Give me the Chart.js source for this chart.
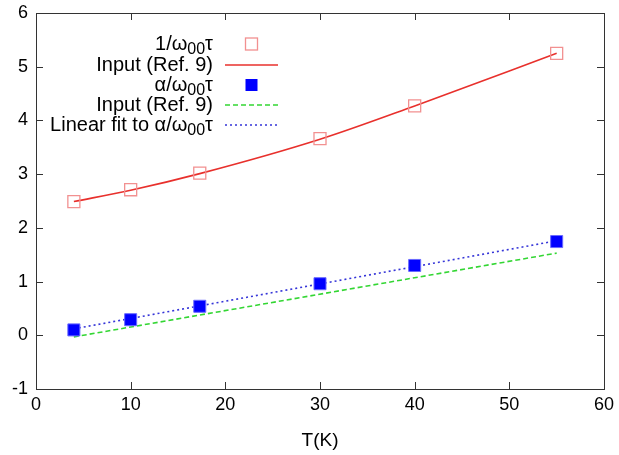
<!DOCTYPE html>
<html>
<head>
<meta charset="utf-8">
<script src="https://cdn.jsdelivr.net/npm/chart.js@4.4.0/dist/chart.umd.min.js"></script>
<style>
  html, body { margin: 0; padding: 0; background: #fff; }
  #wrap { width: 619px; height: 455px; }
</style>
</head>
<body>
<div id="wrap"><canvas id="c" width="619" height="455"></canvas></div>
<script>
// Temperatures of the measured points (K)
const temps = [4, 10, 17.3, 30, 40, 55];
// 1/w00 tau, measured and reference input curve
const invOmegaTau = [2.49, 2.71, 3.02, 3.66, 4.27, 5.25];
const inputCurve = [2.49, 2.70, 3.01, 3.65, 4.27, 5.25];
// alpha/w00 tau, measured, reference input and linear fit (end points)
const alphaOmegaTau = [0.10, 0.29, 0.54, 0.96, 1.30, 1.745];
const lineTemps = [4, 55];
const alphaInput = [-0.03, 1.53];
const alphaFit = [0.12, 1.76];

const xTicks = [0, 10, 20, 30, 40, 50, 60];
const yTicks = [-1, 0, 1, 2, 3, 4, 5, 6];

// legend labels, split so the "00" can be written as a subscript
const legendLabels = [
  [['1/ω'], ['00', 1], ['τ']],
  [['Input (Ref. 9)']],
  [['α/ω'], ['00', 1], ['τ']],
  [['Input (Ref. 9)']],
  [['Linear fit to α/ω'], ['00', 1], ['τ']]
];

const FONT = '"Liberation Sans", Arial, Helvetica, sans-serif';

function pts(xs, ys) {
  return xs.map((x, i) => ({ x: x, y: ys[i] }));
}

// frame with inward ticks on all four sides, gnuplot style
const framePlugin = {
  id: 'frame',
  afterDraw(chart) {
    const { ctx, chartArea: a, scales } = chart;
    ctx.save();
    ctx.strokeStyle = '#333';
    ctx.lineWidth = 1;
    ctx.strokeRect(a.left + 0.5, a.top + 0.5, a.right - a.left, a.bottom - a.top);
    ctx.beginPath();
    const len = 7;
    xTicks.forEach(v => {
      const px = Math.round(scales.x.getPixelForValue(v)) + 0.5;
      ctx.moveTo(px, a.bottom); ctx.lineTo(px, a.bottom - len);
      ctx.moveTo(px, a.top); ctx.lineTo(px, a.top + len);
    });
    yTicks.forEach(v => {
      const py = Math.round(scales.y.getPixelForValue(v)) + 0.5;
      ctx.moveTo(a.left, py); ctx.lineTo(a.left + len, py);
      ctx.moveTo(a.right, py); ctx.lineTo(a.right - len, py);
    });
    ctx.stroke();
    ctx.restore();
  }
};

// key in the upper left: text right aligned, sample on its right
const keyPlugin = {
  id: 'key',
  afterDraw(chart) {
    const ctx = chart.ctx;
    const textRight = 213;
    const sampleL = 225, sampleR = 278;
    const rows = [44, 65, 85, 105, 125];
    ctx.save();
    ctx.textBaseline = 'middle';
    chart.data.datasets.forEach((ds, i) => {
      const y = rows[i];
      const parts = legendLabels[i];
      const fontOf = p => p[1] ? '16px ' + FONT : '20px ' + FONT;
      let w = 0;
      parts.forEach(p => { ctx.font = fontOf(p); w += ctx.measureText(p[0]).width; });
      let x = textRight - w;
      ctx.fillStyle = '#000';
      parts.forEach(p => {
        ctx.font = fontOf(p);
        ctx.fillText(p[0], x, p[1] ? y + 6 : y);
        x += ctx.measureText(p[0]).width;
      });
      if (ds.showLine === false) {
        const r = 6;
        const cx = (sampleL + sampleR) / 2;
        if (ds.pointBackgroundColor === 'transparent') {
          ctx.strokeStyle = ds.pointBorderColor;
          ctx.lineWidth = 1.3;
          ctx.strokeRect(cx - r, y - r, 2 * r, 2 * r);
        } else {
          ctx.fillStyle = ds.pointBackgroundColor;
          ctx.fillRect(cx - r, y - r, 2 * r, 2 * r);
        }
      } else {
        ctx.strokeStyle = ds.borderColor;
        ctx.lineWidth = ds.borderWidth;
        ctx.setLineDash(ds.borderDash || []);
        ctx.beginPath();
        ctx.moveTo(sampleL, y); ctx.lineTo(sampleR, y);
        ctx.stroke();
        ctx.setLineDash([]);
      }
    });
    ctx.restore();
  }
};

new Chart(document.getElementById('c'), {
  type: 'scatter',
  data: {
    datasets: [
      {
        label: '1/ω00τ',
        data: pts(temps, invOmegaTau),
        showLine: false,
        pointStyle: 'rect',
        pointRadius: 8.5,
        pointBackgroundColor: 'transparent',
        pointBorderColor: '#f29090',
        pointBorderWidth: 1.3,
        order: 1
      },
      {
        label: 'Input (Ref. 9)',
        data: pts(temps, inputCurve),
        showLine: true,
        cubicInterpolationMode: 'monotone',
        borderColor: '#e8302c',
        borderWidth: 1.6,
        pointRadius: 0,
        order: 2
      },
      {
        label: 'α/ω00τ',
        data: pts(temps, alphaOmegaTau),
        showLine: false,
        pointStyle: 'rect',
        pointRadius: 8.5,
        pointBackgroundColor: '#0000ff',
        pointBorderColor: '#6a6aff',
        pointBorderWidth: 1,
        order: 0
      },
      {
        label: 'Input (Ref. 9)',
        data: pts(lineTemps, alphaInput),
        showLine: true,
        borderColor: '#33d633',
        borderWidth: 1.6,
        borderDash: [5, 3],
        pointRadius: 0,
        order: 3
      },
      {
        label: 'Linear fit to α/ω00τ',
        data: pts(lineTemps, alphaFit),
        showLine: true,
        borderColor: '#3535d8',
        borderWidth: 1.6,
        borderDash: [2, 3],
        pointRadius: 0,
        order: 3
      }
    ]
  },
  options: {
    responsive: false,
    animation: false,
    layout: { padding: { top: 13, right: 15, left: 0, bottom: 0 } },
    plugins: {
      legend: { display: false },
      tooltip: { enabled: false }
    },
    scales: {
      x: {
        type: 'linear',
        min: 0, max: 60,
        afterFit: s => { s.height = 66; s.paddingLeft = 0; s.paddingRight = 0; },
        afterBuildTicks: s => { s.ticks = xTicks.map(v => ({ value: v })); },
        grid: { display: false, drawTicks: false },
        border: { display: false },
        ticks: { color: '#000', padding: 5, font: { family: FONT, size: 18 } },
        title: {
          display: true, text: 'T(K)', color: '#000',
          font: { family: FONT, size: 19 },
          padding: { top: 0, bottom: 3 }
        }
      },
      y: {
        min: -1, max: 6,
        afterFit: s => { s.width = 36; s.paddingTop = 0; s.paddingBottom = 0; },
        afterBuildTicks: s => { s.ticks = yTicks.map(v => ({ value: v })); },
        grid: { display: false, drawTicks: false },
        border: { display: false },
        ticks: { color: '#000', padding: 8, font: { family: FONT, size: 18 } }
      }
    }
  },
  plugins: [framePlugin, keyPlugin]
});
</script>
</body>
</html>
